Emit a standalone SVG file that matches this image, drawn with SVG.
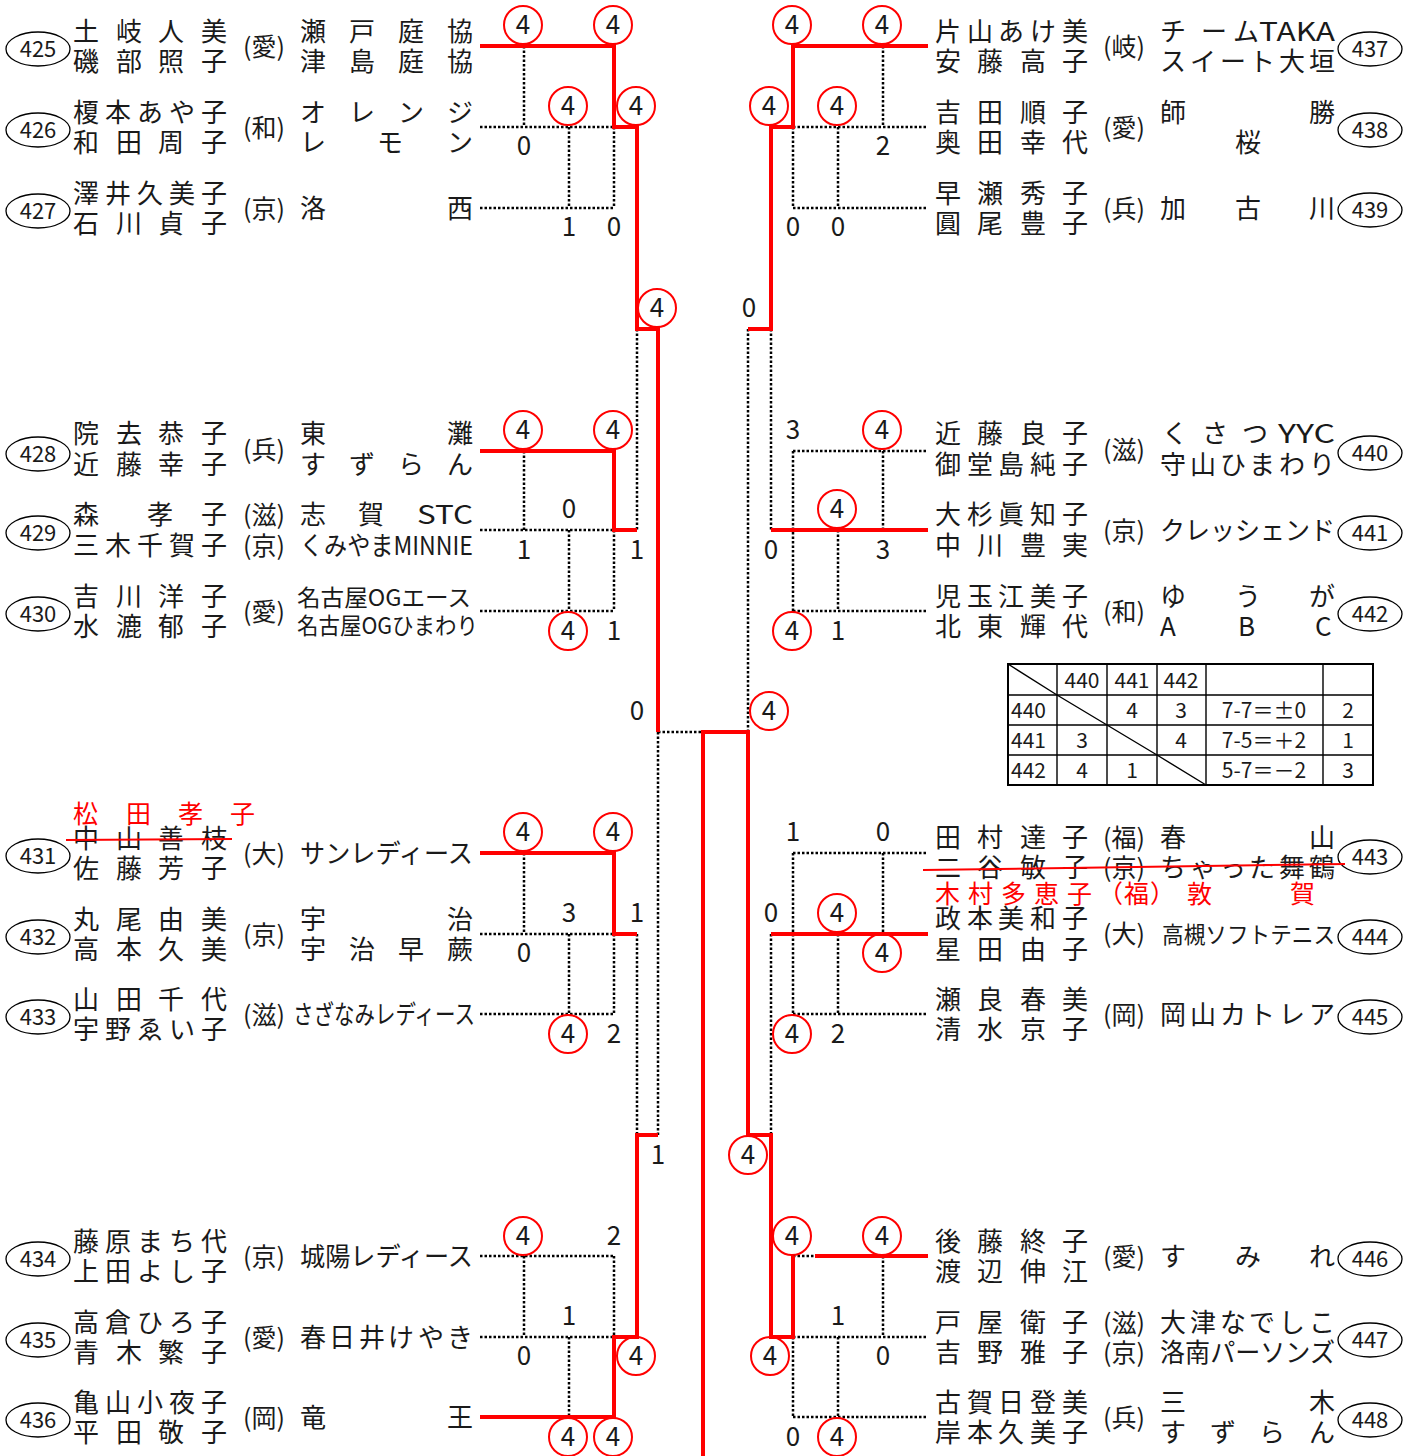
<svg xmlns="http://www.w3.org/2000/svg" width="1418" height="1456" viewBox="0 0 1418 1456">
<style>
text{font-family:"Noto Sans CJK JP","Noto Sans CJK SC",sans-serif;fill:#1a1a1a}
.nm{font-size:26px}
.pf{font-size:25px}
.sm{font-size:23px}
.sd{font-size:22px;text-anchor:middle}
.sc{font-size:26px;text-anchor:middle}
.tb{font-size:21px}
.tc{font-size:21px;text-anchor:middle}
.rt{fill:#ff0000;font-size:25px}
.ov{fill:none;stroke:#000;stroke-width:1.3}
.r{fill:none;stroke:#ff0000;stroke-width:4}
.d{fill:none;stroke:#000;stroke-width:2.5;stroke-dasharray:2.5 2}
.c{fill:none;stroke:#ff0000;stroke-width:2}
.tl{fill:none;stroke:#000;stroke-width:2}
.tt{fill:none;stroke:#000;stroke-width:1.4}
</style>
<rect width="1418" height="1456" fill="#fff"/>

<g id="connectors">
<g id="dotted">
<path class="d" d="M480,127H614M480,208H614M524,46V127M569,127V208M614,127V208"/>
<path class="d" d="M480,530H614M480,611H614M524,451V530M569,530V611M614,530V611M637,329V530"/>
<path class="d" d="M480,934H614M480,1014H614M524,853V934M569,934V1014M614,934V1014M637,934V1135"/>
<path class="d" d="M480,1256H614M480,1337H614M524,1256V1337M614,1256V1337M569,1337V1417"/>
<path class="d" d="M658,732H703M658,732V1135M748,329V732"/>
<path class="d" d="M793,127H928M793,208H928M883,46V127M793,127V208M838,127V208"/>
<path class="d" d="M793,451H928M793,611H928M793,451V611M883,451V530M838,530V611M771,329V530"/>
<path class="d" d="M793,853H928M793,1014H928M793,853V1014M883,853V934M838,934V1014M771,934V1135"/>
<path class="d" d="M793,1256H815M793,1337H928M793,1417H928M883,1256V1337M793,1337V1417M838,1337V1417"/>
</g>
<g id="red">
<path class="r" d="M480,46H614V127H637V329H658V732"/>
<path class="r" d="M480,451H614V530H637"/>
<path class="r" d="M480,853H614V934H637"/>
<path class="r" d="M480,1417H614V1337H637V1135H658"/>
<path class="r" d="M703,1456V732H748V1135H771V1337H793V1256M815,1256H928"/>
<path class="r" d="M928,46H793V127H771V329H748"/>
<path class="r" d="M771,530H928"/>
<path class="r" d="M771,934H928"/>
</g>
</g>

<g id="scores">
<g id="circ">
<circle class="c" cx="523" cy="25" r="19"/><circle class="c" cx="613" cy="25" r="19"/><circle class="c" cx="568" cy="106" r="19"/><circle class="c" cx="636" cy="106" r="19"/><circle class="c" cx="657" cy="308" r="19"/>
<circle class="c" cx="523" cy="430" r="19"/><circle class="c" cx="613" cy="430" r="19"/><circle class="c" cx="568" cy="631" r="19"/>
<circle class="c" cx="769" cy="711" r="19"/>
<circle class="c" cx="523" cy="832" r="19"/><circle class="c" cx="613" cy="832" r="19"/><circle class="c" cx="568" cy="1034" r="19"/>
<circle class="c" cx="523" cy="1236" r="19"/><circle class="c" cx="636" cy="1356" r="19"/><circle class="c" cx="568" cy="1437" r="19"/><circle class="c" cx="613" cy="1437" r="19"/>
<circle class="c" cx="792" cy="25" r="19"/><circle class="c" cx="882" cy="25" r="19"/><circle class="c" cx="769" cy="106" r="19"/><circle class="c" cx="837" cy="106" r="19"/>
<circle class="c" cx="882" cy="430" r="19"/><circle class="c" cx="837" cy="509" r="19"/><circle class="c" cx="792" cy="631" r="19"/>
<circle class="c" cx="837" cy="913" r="19"/><circle class="c" cx="882" cy="953" r="19"/><circle class="c" cx="792" cy="1034" r="19"/><circle class="c" cx="748" cy="1155" r="19"/>
<circle class="c" cx="792" cy="1236" r="19"/><circle class="c" cx="882" cy="1236" r="19"/><circle class="c" cx="770" cy="1356" r="19"/><circle class="c" cx="837" cy="1437" r="19"/>
</g>
<g id="nums">
<text class="sc" x="523" y="34">4</text><text class="sc" x="613" y="34">4</text><text class="sc" x="568" y="115">4</text><text class="sc" x="636" y="115">4</text><text class="sc" x="657" y="317">4</text>
<text class="sc" x="524" y="155">0</text><text class="sc" x="569" y="236">1</text><text class="sc" x="614" y="236">0</text>
<text class="sc" x="523" y="439">4</text><text class="sc" x="613" y="439">4</text><text class="sc" x="568" y="640">4</text>
<text class="sc" x="569" y="518">0</text><text class="sc" x="524" y="559">1</text><text class="sc" x="637" y="559">1</text><text class="sc" x="614" y="640">1</text>
<text class="sc" x="637" y="720">0</text><text class="sc" x="769" y="720">4</text>
<text class="sc" x="523" y="841">4</text><text class="sc" x="613" y="841">4</text><text class="sc" x="568" y="1043">4</text>
<text class="sc" x="569" y="922">3</text><text class="sc" x="637" y="922">1</text><text class="sc" x="524" y="962">0</text><text class="sc" x="614" y="1043">2</text><text class="sc" x="658" y="1164">1</text>
<text class="sc" x="523" y="1245">4</text><text class="sc" x="614" y="1245">2</text><text class="sc" x="569" y="1325">1</text><text class="sc" x="524" y="1365">0</text><text class="sc" x="636" y="1365">4</text><text class="sc" x="568" y="1446">4</text><text class="sc" x="613" y="1446">4</text>
<text class="sc" x="792" y="34">4</text><text class="sc" x="882" y="34">4</text><text class="sc" x="769" y="115">4</text><text class="sc" x="837" y="115">4</text>
<text class="sc" x="883" y="155">2</text><text class="sc" x="793" y="236">0</text><text class="sc" x="838" y="236">0</text><text class="sc" x="749" y="317">0</text>
<text class="sc" x="793" y="439">3</text><text class="sc" x="882" y="439">4</text><text class="sc" x="837" y="518">4</text><text class="sc" x="771" y="559">0</text><text class="sc" x="883" y="559">3</text><text class="sc" x="792" y="640">4</text><text class="sc" x="838" y="640">1</text>
<text class="sc" x="793" y="841">1</text><text class="sc" x="883" y="841">0</text><text class="sc" x="771" y="922">0</text><text class="sc" x="837" y="922">4</text><text class="sc" x="882" y="962">4</text><text class="sc" x="792" y="1043">4</text><text class="sc" x="838" y="1043">2</text><text class="sc" x="748" y="1164">4</text>
<text class="sc" x="792" y="1245">4</text><text class="sc" x="882" y="1245">4</text><text class="sc" x="838" y="1325">1</text><text class="sc" x="770" y="1365">4</text><text class="sc" x="883" y="1365">0</text><text class="sc" x="793" y="1446">0</text><text class="sc" x="837" y="1446">4</text>
</g>
</g>

<!-- LEFT ENTRIES -->
<g id="e425">
<ellipse class="ov" cx="38" cy="49" rx="32" ry="17"/><text class="sd" x="38" y="57">425</text>
<text class="nm" x="73 116 158 201" y="41">土岐人美</text><text class="nm" x="73 116 158 201" y="71">磯部照子</text>
<text class="pf" x="243" y="56">(愛)</text>
<text class="nm" x="300 349 398 447" y="41">瀬戸庭協</text><text class="nm" x="300 349 398 447" y="71">津島庭協</text>
</g>
<g id="e426">
<ellipse class="ov" cx="38" cy="130" rx="32" ry="17"/><text class="sd" x="38" y="138">426</text>
<text class="nm" x="73 105 137 169 201" y="122">榎本あや子</text><text class="nm" x="73 116 158 201" y="152">和田周子</text>
<text class="pf" x="243" y="137">(和)</text>
<text class="nm" x="300 349 398 447" y="122">オレンジ</text><text class="nm" x="300 377 447" y="152">レモン</text>
</g>
<g id="e427">
<ellipse class="ov" cx="38" cy="211" rx="32" ry="17"/><text class="sd" x="38" y="219">427</text>
<text class="nm" x="73 105 137 169 201" y="203">澤井久美子</text><text class="nm" x="73 116 158 201" y="233">石川貞子</text>
<text class="pf" x="243" y="218">(京)</text>
<text class="nm" x="300 447" y="218">洛西</text>
</g>
<g id="e428">
<ellipse class="ov" cx="38" cy="454" rx="32" ry="17"/><text class="sd" x="38" y="462">428</text>
<text class="nm" x="73 116 158 201" y="443">院去恭子</text><text class="nm" x="73 116 158 201" y="474">近藤幸子</text>
<text class="pf" x="243" y="459">(兵)</text>
<text class="nm" x="300 447" y="443">東灘</text><text class="nm" x="300 349 398 447" y="474">すずらん</text>
</g>
<g id="e429">
<ellipse class="ov" cx="38" cy="533" rx="32" ry="17"/><text class="sd" x="38" y="541">429</text>
<text class="nm" x="73 147 201" y="524">森孝子</text><text class="nm" x="73 105 137 169 201" y="555">三木千賀子</text>
<text class="pf" x="243" y="524">(滋)</text><text class="pf" x="243" y="555">(京)</text>
<text class="nm" x="300 358" y="524">志賀</text><text class="nm" x="417" y="524" textLength="56" lengthAdjust="spacingAndGlyphs">STC</text>
<text class="nm" x="300" y="555" textLength="173" lengthAdjust="spacingAndGlyphs">くみやまMINNIE</text>
</g>
<g id="e430">
<ellipse class="ov" cx="38" cy="614" rx="32" ry="17"/><text class="sd" x="38" y="622">430</text>
<text class="nm" x="73 116 158 201" y="606">吉川洋子</text><text class="nm" x="73 116 158 201" y="636">水漉郁子</text>
<text class="pf" x="243" y="621">(愛)</text>
<text class="sm" x="297" y="606" textLength="174" lengthAdjust="spacingAndGlyphs">名古屋OGエース</text>
<text class="sm" x="297" y="634" textLength="181" lengthAdjust="spacingAndGlyphs">名古屋OGひまわり</text>
</g>
<g id="e431">
<ellipse class="ov" cx="38" cy="856" rx="32" ry="17"/><text class="sd" x="38" y="864">431</text>
<text class="rt" x="73 126 178 230" y="823">松田孝子</text>
<text class="nm" x="73 116 158 201" y="848">中山善枝</text>
<line x1="66" y1="840" x2="232" y2="839" stroke="#ff0000" stroke-width="2"/>
<text class="nm" x="73 116 158 201" y="878">佐藤芳子</text>
<text class="pf" x="243" y="863">(大)</text>
<text class="nm" x="300" y="863" textLength="173" lengthAdjust="spacingAndGlyphs">サンレディース</text>
</g>
<g id="e432">
<ellipse class="ov" cx="38" cy="937" rx="32" ry="17"/><text class="sd" x="38" y="945">432</text>
<text class="nm" x="73 116 158 201" y="929">丸尾由美</text><text class="nm" x="73 116 158 201" y="959">高本久美</text>
<text class="pf" x="243" y="944">(京)</text>
<text class="nm" x="300 447" y="929">宇治</text><text class="nm" x="300 349 398 447" y="959">宇治早蕨</text>
</g>
<g id="e433">
<ellipse class="ov" cx="38" cy="1017" rx="32" ry="17"/><text class="sd" x="38" y="1025">433</text>
<text class="nm" x="73 116 158 201" y="1009">山田千代</text><text class="nm" x="73 105 137 169 201" y="1039">宇野ゑい子</text>
<text class="pf" x="243" y="1024">(滋)</text>
<text class="nm" x="293" y="1024" textLength="182" lengthAdjust="spacingAndGlyphs">さざなみレディース</text>
</g>
<g id="e434">
<ellipse class="ov" cx="38" cy="1259" rx="32" ry="17"/><text class="sd" x="38" y="1267">434</text>
<text class="nm" x="73 105 137 169 201" y="1251">藤原まち代</text><text class="nm" x="73 105 137 169 201" y="1281">上田よし子</text>
<text class="pf" x="243" y="1266">(京)</text>
<text class="nm" x="300" y="1266" textLength="173" lengthAdjust="spacingAndGlyphs">城陽レディース</text>
</g>
<g id="e435">
<ellipse class="ov" cx="38" cy="1340" rx="32" ry="17"/><text class="sd" x="38" y="1348">435</text>
<text class="nm" x="73 105 137 169 201" y="1332">高倉ひろ子</text><text class="nm" x="73 116 158 201" y="1362">青木繁子</text>
<text class="pf" x="243" y="1347">(愛)</text>
<text class="nm" x="300 329 359 388 418 447" y="1347">春日井けやき</text>
</g>
<g id="e436">
<ellipse class="ov" cx="38" cy="1420" rx="32" ry="17"/><text class="sd" x="38" y="1428">436</text>
<text class="nm" x="73 105 137 169 201" y="1412">亀山小夜子</text><text class="nm" x="73 116 158 201" y="1442">平田敬子</text>
<text class="pf" x="243" y="1427">(岡)</text>
<text class="nm" x="300 447" y="1427">竜王</text>
</g>

<!-- RIGHT ENTRIES -->
<g id="e437">
<ellipse class="ov" cx="1370" cy="49" rx="32" ry="17"/><text class="sd" x="1370" y="57">437</text>
<text class="nm" x="935 967 998 1030 1062" y="41">片山あけ美</text><text class="nm" x="935 977 1020 1062" y="71">安藤高子</text>
<text class="pf" x="1103" y="56">(岐)</text>
<text class="nm" x="1160 1201 1233" y="41">チーム</text><text class="nm" x="1259" y="41" textLength="76" lengthAdjust="spacingAndGlyphs">TAKA</text>
<text class="nm" x="1160 1190 1220 1249 1279 1309" y="71">スイート大垣</text>
</g>
<g id="e438">
<ellipse class="ov" cx="1370" cy="130" rx="32" ry="17"/><text class="sd" x="1370" y="138">438</text>
<text class="nm" x="935 977 1020 1062" y="122">吉田順子</text><text class="nm" x="935 977 1020 1062" y="152">奥田幸代</text>
<text class="pf" x="1103" y="137">(愛)</text>
<text class="nm" x="1160 1309" y="122">師勝</text><text class="nm" x="1235" y="152">桜</text>
</g>
<g id="e439">
<ellipse class="ov" cx="1370" cy="210" rx="32" ry="17"/><text class="sd" x="1370" y="218">439</text>
<text class="nm" x="935 977 1020 1062" y="203">早瀬秀子</text><text class="nm" x="935 977 1020 1062" y="233">圓尾豊子</text>
<text class="pf" x="1103" y="218">(兵)</text>
<text class="nm" x="1160 1235 1309" y="218">加古川</text>
</g>
<g id="e440">
<ellipse class="ov" cx="1370" cy="453" rx="32" ry="17"/><text class="sd" x="1370" y="461">440</text>
<text class="nm" x="935 977 1020 1062" y="443">近藤良子</text><text class="nm" x="935 967 998 1030 1062" y="474">御堂島純子</text>
<text class="pf" x="1103" y="459">(滋)</text>
<text class="nm" x="1162 1202 1242" y="443">くさつ</text><text class="nm" x="1278" y="443" textLength="57" lengthAdjust="spacingAndGlyphs">YYC</text>
<text class="nm" x="1160 1190 1220 1249 1279 1309" y="474">守山ひまわり</text>
</g>
<g id="e441">
<ellipse class="ov" cx="1370" cy="533" rx="32" ry="17"/><text class="sd" x="1370" y="541">441</text>
<text class="nm" x="935 967 998 1030 1062" y="524">大杉眞知子</text><text class="nm" x="935 977 1020 1062" y="555">中川豊実</text>
<text class="pf" x="1103" y="540">(京)</text>
<text class="nm" x="1160" y="540" textLength="175" lengthAdjust="spacingAndGlyphs">クレッシェンド</text>
</g>
<g id="e442">
<ellipse class="ov" cx="1370" cy="614" rx="32" ry="17"/><text class="sd" x="1370" y="622">442</text>
<text class="nm" x="935 967 998 1030 1062" y="606">児玉江美子</text><text class="nm" x="935 977 1020 1062" y="636">北東輝代</text>
<text class="pf" x="1103" y="621">(和)</text>
<text class="nm" x="1160 1235 1309" y="606">ゆうが</text><text class="nm" x="1160 1238 1315" y="636">ABC</text>
</g>
<g id="e443">
<ellipse class="ov" cx="1370" cy="857" rx="32" ry="17"/><text class="sd" x="1370" y="865">443</text>
<text class="nm" x="935 977 1020 1062" y="847">田村達子</text><text class="pf" x="1103" y="847">(福)</text><text class="nm" x="1160 1309" y="847">春山</text>
<text class="nm" x="935 977 1020 1062" y="877">二谷敏子</text><text class="pf" x="1103" y="877">(京)</text><text class="nm" x="1160 1190 1220 1249 1279 1309" y="877">ちゃった舞鶴</text>
<line x1="923" y1="870" x2="1345" y2="864" stroke="#ff0000" stroke-width="2"/>
<text class="rt" x="935 968 1001 1034 1067 1098 1124 1150 1187 1290" y="903">木村多恵子（福）敦賀</text>
</g>
<g id="e444">
<ellipse class="ov" cx="1370" cy="937" rx="32" ry="17"/><text class="sd" x="1370" y="945">444</text>
<text class="nm" x="935 967 998 1030 1062" y="928">政本美和子</text><text class="nm" x="935 977 1020 1062" y="959">星田由子</text>
<text class="pf" x="1103" y="943">(大)</text>
<text class="sm" x="1162" y="943" textLength="173" lengthAdjust="spacingAndGlyphs">高槻ソフトテニス</text>
</g>
<g id="e445">
<ellipse class="ov" cx="1370" cy="1017" rx="32" ry="17"/><text class="sd" x="1370" y="1025">445</text>
<text class="nm" x="935 977 1020 1062" y="1009">瀬良春美</text><text class="nm" x="935 977 1020 1062" y="1039">清水京子</text>
<text class="pf" x="1103" y="1024">(岡)</text>
<text class="nm" x="1160 1190 1220 1249 1279 1309" y="1024">岡山カトレア</text>
</g>
<g id="e446">
<ellipse class="ov" cx="1370" cy="1259" rx="32" ry="17"/><text class="sd" x="1370" y="1267">446</text>
<text class="nm" x="935 977 1020 1062" y="1251">後藤終子</text><text class="nm" x="935 977 1020 1062" y="1281">渡辺伸江</text>
<text class="pf" x="1103" y="1266">(愛)</text>
<text class="nm" x="1160 1235 1309" y="1266">すみれ</text>
</g>
<g id="e447">
<ellipse class="ov" cx="1370" cy="1340" rx="32" ry="17"/><text class="sd" x="1370" y="1348">447</text>
<text class="nm" x="935 977 1020 1062" y="1332">戸屋衛子</text><text class="pf" x="1103" y="1332">(滋)</text><text class="nm" x="1160 1190 1220 1249 1279 1309" y="1332">大津なでしこ</text>
<text class="nm" x="935 977 1020 1062" y="1362">吉野雅子</text><text class="pf" x="1103" y="1362">(京)</text><text class="nm" x="1160" y="1362" textLength="175" lengthAdjust="spacingAndGlyphs">洛南パーソンズ</text>
</g>
<g id="e448">
<ellipse class="ov" cx="1370" cy="1420" rx="32" ry="17"/><text class="sd" x="1370" y="1428">448</text>
<text class="nm" x="935 967 998 1030 1062" y="1412">古賀日登美</text><text class="nm" x="935 967 998 1030 1062" y="1442">岸本久美子</text>
<text class="pf" x="1103" y="1427">(兵)</text>
<text class="nm" x="1160 1309" y="1412">三木</text><text class="nm" x="1160 1210 1259 1309" y="1442">すずらん</text>
</g>

<!-- ROUND ROBIN TABLE -->
<g id="table">
<rect class="tl" x="1008" y="664" width="365" height="121"/>
<path class="tt" d="M1057,664V785M1107,664V785M1157,664V785M1206,664V785M1323,664V785M1008,695H1373M1008,725H1373M1008,755H1373"/>
<path class="tt" d="M1008,664L1057,695M1057,695L1107,725M1107,725L1157,755M1157,755L1206,785"/>
<text class="tc" x="1082" y="688">440</text><text class="tc" x="1132" y="688">441</text><text class="tc" x="1181" y="688">442</text>
<text class="tb" x="1011" y="718">440</text><text class="tc" x="1132" y="718">4</text><text class="tc" x="1181" y="718">3</text><text class="tc" x="1264" y="718">7-7＝±0</text><text class="tc" x="1348" y="718">2</text>
<text class="tb" x="1011" y="748">441</text><text class="tc" x="1082" y="748">3</text><text class="tc" x="1181" y="748">4</text><text class="tc" x="1264" y="748">7-5＝＋2</text><text class="tc" x="1348" y="748">1</text>
<text class="tb" x="1011" y="778">442</text><text class="tc" x="1082" y="778">4</text><text class="tc" x="1132" y="778">1</text><text class="tc" x="1264" y="778">5-7＝－2</text><text class="tc" x="1348" y="778">3</text>
</g>
</svg>
